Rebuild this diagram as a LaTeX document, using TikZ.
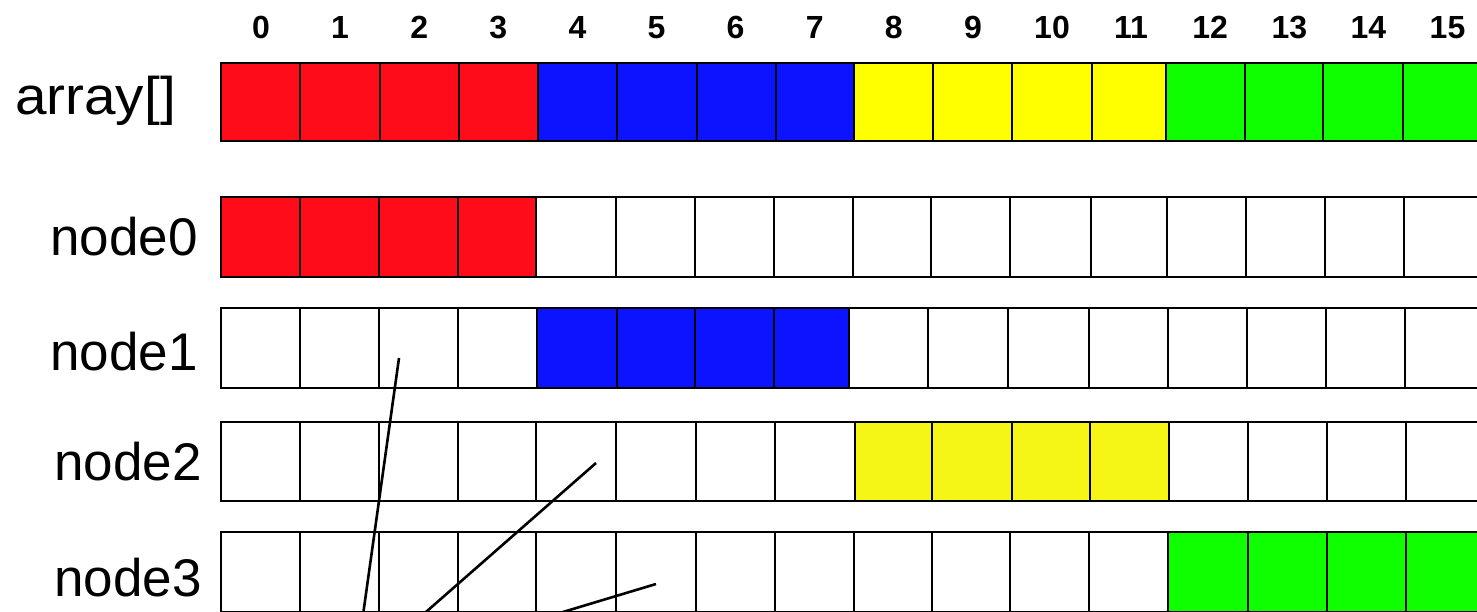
\documentclass[tikz,border=0pt]{standalone}
\usepackage{fontspec}
\setmainfont{Liberation Sans}
\usetikzlibrary{calc}
\definecolor{cred}{RGB}{255,12,26}
\definecolor{cblue}{RGB}{12,20,255}
\definecolor{cyel}{RGB}{255,255,0}
\definecolor{cyeltwo}{RGB}{245,245,22}
\definecolor{cgreen}{RGB}{16,255,0}
\newcommand{\cellrow}[3]{%
  \foreach \xa/\xb/\fc in {#3} {\draw[cellbox, fill=\fc] (\xa,#1) rectangle (\xb,#2);}%
}
\begin{document}
\begin{tikzpicture}[x=1pt,y=-1pt,
  cellbox/.style={draw=black, line width=2.6pt},
  idx/.style={font=\fontsize{32}{36}\selectfont\bfseries, anchor=base, inner sep=0pt},
  rowlabel/.style={font=\fontsize{53}{60}\selectfont, anchor=east, inner sep=0pt},
  link/.style={draw=black, line width=2.6pt}]
\useasboundingbox (0,0) rectangle (1477,612);
\clip (0,0) rectangle (1477,612);
% index numbers
\foreach \i in {0,...,15} {\node[idx] (n\i) at ({261+79.1*\i},39) {\i};}
% labels
\node[rowlabel] (larr) at (176,101) {\scalebox{1.07}[1]{array[]}};
\node[rowlabel] (l0) at (198,237) {node0};
\node[rowlabel] (l1) at (198,352) {node1};
\node[rowlabel] (l2) at (202,462) {node2};
\node[rowlabel] (l3) at (202,578) {node3};
% array row
\cellrow{63}{141}{221/300/cred,300/380/cred,380/459/cred,459/538/cred,538/617/cblue,617/697/cblue,697/776/cblue,776/854/cblue,854/933/cyel,933/1012/cyel,1012/1092/cyel,1092/1166/cyel,1166/1245/cgreen,1245/1323/cgreen,1323/1403/cgreen,1403/1482/cgreen}
% node0 row
\cellrow{197}{277}{221/300/cred,300/379/cred,379/458/cred,458/536/cred,536/616/white,616/695/white,695/774/white,774/853/white,853/931/white,931/1010/white,1010/1091/white,1091/1167/white,1167/1246/white,1246/1325/white,1325/1404/white,1404/1483/white}
% node1 row
\cellrow{308}{388}{221/300/white,300/379/white,379/458/white,458/537/white,537/617/cblue,617/695/cblue,695/774/cblue,774/849/cblue,849/928/white,928/1008/white,1008/1089/white,1089/1168/white,1168/1247/white,1247/1326/white,1326/1405/white,1405/1484/white}
% node2 row
\cellrow{422}{501}{221/300/white,300/379/white,379/458/white,458/536/white,536/616/white,616/696/white,696/775/white,775/855/white,855/932/cyeltwo,932/1012/cyeltwo,1012/1090/cyeltwo,1090/1169/cyeltwo,1169/1248/white,1248/1327/white,1327/1406/white,1406/1485/white}
% node3 row
\cellrow{532}{612}{221/300/white,300/379/white,379/458/white,458/536/white,536/616/white,616/696/white,696/775/white,775/854/white,854/932/white,932/1010/white,1010/1089/white,1089/1168/white,1168/1248/cgreen,1248/1327/cgreen,1327/1406/cgreen,1406/1485/cgreen}
% free lines
\coordinate (a1) at (399,358);
\coordinate (b1) at (359.5,640);
\coordinate (a2) at (596,463);
\coordinate (b2) at (394,640);
\coordinate (a3) at (656,584);
\coordinate (b3) at (563,612);
\draw[link] (a1) -- (b1);
\draw[link] (a2) -- (b2);
\draw[link] (a3) -- ($(a3)!1.6!(b3)$);
\end{tikzpicture}
\end{document}
